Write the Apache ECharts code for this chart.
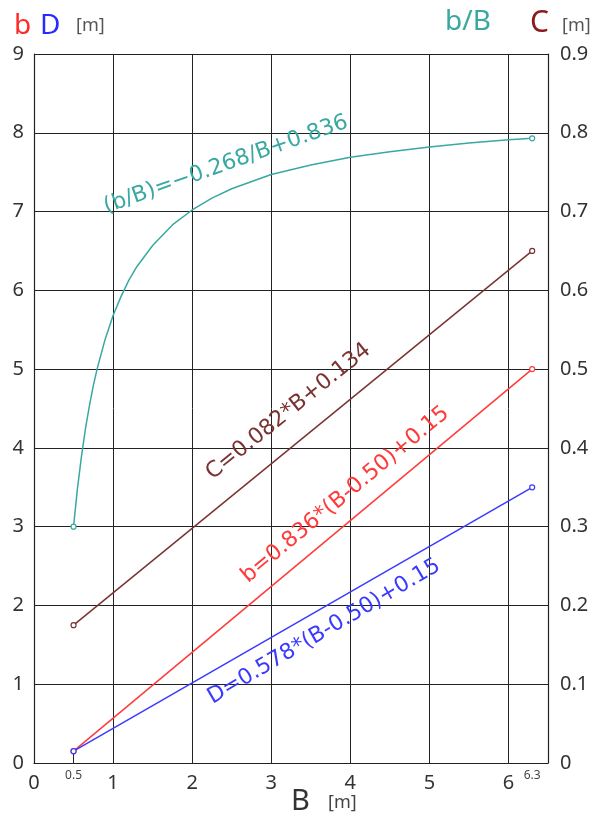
<!DOCTYPE html>
<html><head><meta charset="utf-8">
<script src="https://cdn.jsdelivr.net/npm/echarts@6/dist/echarts.min.js"></script>
<style>html,body{margin:0;padding:0;background:#fff}#c{width:600px;height:818px}</style>
</head><body><div id="c"></div>
<script>
// B values [m]
const B_curve = [0.5, 0.55, 0.6, 0.65, 0.7, 0.75, 0.8, 0.9, 1.0, 1.1, 1.2, 1.3, 1.5, 1.75, 2.0, 2.25, 2.5, 3.0, 3.5, 4.0, 4.5, 5.0, 5.5, 6.0, 6.3];
// b/B ratio (right axis)
const bB_values = [0.300, 0.349, 0.389, 0.424, 0.453, 0.479, 0.501, 0.538, 0.568, 0.592, 0.613, 0.630, 0.657, 0.683, 0.702, 0.717, 0.729, 0.747, 0.759, 0.769, 0.776, 0.782, 0.787, 0.791, 0.793];
const B_line = [0.5, 6.3];
const C_values = [0.175, 0.650];   // right axis [m]
const b_values = [0.15, 5.00];     // left axis [m]
const D_values = [0.15, 3.50];     // left axis [m]
const leftTicks = [0,1,2,3,4,5,6,7,8,9];
const rightTicks = [0,0.1,0.2,0.3,0.4,0.5,0.6,0.7,0.8,0.9];
const xTicks = [0,1,2,3,4,5,6];
const extraX = [0.5, 6.3];

const FONT = '"Noto Sans", "Open Sans", sans-serif';
const EQF = '"DejaVu Sans", sans-serif';
const cTeal = '#3aa8a2', cBrown = '#7a3333', cRed = '#ff3a3a', cBlue = '#3a3aff', cGrid = '#222';

function pts(xs, ys) {
  return xs.map((x, i) => {
    const end = (i === 0 || i === xs.length - 1);
    return { value: [x, ys[i]], symbol: end ? 'circle' : 'none' };
  });
}

const chart = echarts.init(document.getElementById('c'));
const lineSeries = (name, data, color, yAxisIndex) => ({
  name, type: 'line', data, yAxisIndex, smooth: false,
  lineStyle: { color, width: 1.5, join: 'round' }, itemStyle: { color: '#fff', borderColor: color, borderWidth: 1.2 },
  symbolSize: 5, showAllSymbol: true, animation: false, z: 3
});
chart.setOption({
  animation: false,
  grid: { left: 34, right: 52, top: 54, bottom: 55 },
  xAxis: {
    type: 'value', min: 0, max: 6.5, interval: 1,
    axisLine: { show: true, lineStyle: { color: cGrid, width: 1.2 } },
    axisTick: { show: false },
    splitLine: { show: true, lineStyle: { color: cGrid, width: 1 } },
    axisLabel: { color: '#333', fontSize: 20, fontFamily: FONT, margin: 10,
      formatter: v => xTicks.includes(v) ? String(v) : '' }
  },
  yAxis: [{
    type: 'value', min: 0, max: 9, interval: 1, position: 'left',
    axisLine: { show: true, lineStyle: { color: cGrid, width: 1.2 } },
    axisTick: { show: false },
    splitLine: { show: true, lineStyle: { color: cGrid, width: 1 } },
    axisLabel: { color: '#333', fontSize: 20, fontFamily: FONT, margin: 10,
      formatter: v => leftTicks.includes(v) ? String(v) : '' }
  }, {
    type: 'value', min: 0, max: 0.9, interval: 0.1, position: 'right',
    axisLine: { show: true, lineStyle: { color: cGrid, width: 1.2 } },
    axisTick: { show: false }, splitLine: { show: false },
    axisLabel: { color: '#333', fontSize: 20, fontFamily: FONT, margin: 12,
      formatter: v => { const r = Math.round(v * 10) / 10; return r === 0 ? '0' : r.toFixed(1); } }
  }],
  series: [
    { type: 'line', data: [[0.5, 0], [0.5, 0.15]], symbol: 'none', lineStyle: { color: '#222', width: 1 }, z: 2 },
    lineSeries('bB', pts(B_curve, bB_values), cTeal, 1),
    lineSeries('C', pts(B_line, C_values), cBrown, 1),
    lineSeries('b', pts(B_line, b_values), cRed, 0),
    lineSeries('D', pts(B_line, D_values), cBlue, 0)
  ]
});

function px(x, y, yi) { return chart.convertToPixel({ xAxisIndex: 0, yAxisIndex: yi || 0 }, [x, y]); }
const deg = Math.PI / 180;
const graphics = [
  { type: 'text', left: 14, top: 12, style: { text: 'b', fill: '#ff2a2a', font: '28px ' + FONT } },
  { type: 'text', left: 40, top: 12, style: { text: 'D', fill: '#2a2aff', font: '28px ' + FONT } },
  { type: 'text', left: 76, top: 17, style: { text: '[m]', fill: '#555', font: '18px ' + FONT } },
  { type: 'text', left: 445, top: 8, style: { text: 'b/B', fill: cTeal, font: '28px ' + FONT } },
  { type: 'text', left: 530, top: 8, style: { text: 'C', fill: '#8b1a1a', font: '30px ' + FONT } },
  { type: 'text', left: 562, top: 17, style: { text: '[m]', fill: '#555', font: '18px ' + FONT } },
  { type: 'text', left: 291, top: 787, style: { text: 'B', fill: '#333', font: '29px ' + FONT } },
  { type: 'text', left: 328, top: 794, style: { text: '[m]', fill: '#444', font: '18px ' + FONT } }
];
extraX.forEach(v => {
  const p = px(v, 0);
  graphics.push({ type: 'text', x: p[0], y: p[1] + 7,
    style: { text: String(v), fill: '#444', font: '12px ' + FONT, align: 'center' } });
});
const eqs = [
  { t: '(b/B)=−0.268/B+0.836', c: cTeal, at: [0.94, 0.692], yi: 1, rot: 19.5 },
  { t: 'C=0.082*B+0.134', c: cBrown, at: [2.30, 0.354], yi: 1, rot: 38.8 },
  { t: 'b=0.836*(B-0.50)+0.15', c: cRed, at: [2.75, 2.23], yi: 0, rot: 39.8 },
  { t: 'D=0.578*(B-0.50)+0.15', c: cBlue, at: [2.29, 0.69], yi: 0, rot: 30.5 }
];
eqs.forEach(e => {
  const p = px(e.at[0], e.at[1], e.yi);
  graphics.push({ type: 'text', x: p[0], y: p[1], rotation: e.rot * deg, z: 10,
    style: { text: e.t, fill: e.c, font: '22px ' + EQF, align: 'left', verticalAlign: 'bottom' } });
});
chart.setOption({ graphic: graphics });
</script></body></html>
